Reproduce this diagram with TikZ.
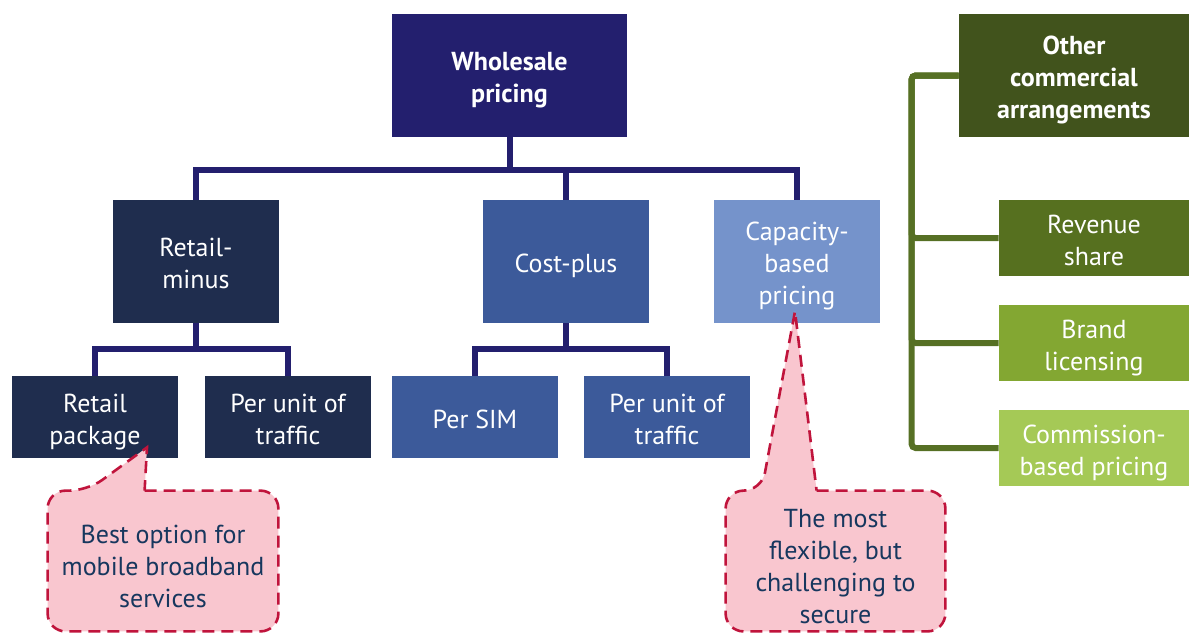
\documentclass[tikz,border=0pt]{standalone}
\usepackage{fontspec}
\setmainfont{PT Sans}
\usetikzlibrary{positioning}

\definecolor{wholeblue}{RGB}{35,31,110}
\definecolor{retailnavy}{RGB}{31,45,78}
\definecolor{costblue}{RGB}{60,90,154}
\definecolor{capblue}{RGB}{117,147,203}
\definecolor{othergreen}{RGB}{65,83,28}
\definecolor{linegreen}{RGB}{86,112,36}
\definecolor{revgreen}{RGB}{86,112,31}
\definecolor{brandgreen}{RGB}{131,167,50}
\definecolor{commgreen}{RGB}{165,201,86}
\definecolor{notepink}{RGB}{249,198,207}
\definecolor{notered}{RGB}{192,20,60}
\definecolor{noteink}{RGB}{23,55,94}

% strut for the first line of a box
\newcommand{\toppad}{\rule{0pt}{14.5pt}}

\begin{document}
\begin{tikzpicture}[
    x=0.5pt, y=-0.5pt,
    every node/.style={align=center, text=white, inner sep=0pt,
      font=\fontsize{13}{16}\selectfont,
      execute at end node={\rule[-3.5pt]{0pt}{0pt}}},
    headbox/.style={minimum width=117.5pt, minimum height=61.5pt,
      font=\fontsize{13}{16}\selectfont\bfseries},
    midbox/.style={minimum width=83pt, minimum height=61.5pt},
    leafbox/.style={minimum width=83pt, minimum height=41pt},
    sidebox/.style={minimum width=95pt, minimum height=38pt},
    navyline/.style={draw=wholeblue, line width=3pt},
    greenline/.style={draw=linegreen, line width=3pt, rounded corners=2pt},
    notebox/.style={fill=notepink, draw=notered, line width=1.3pt,
      dash pattern=on 6pt off 3.5pt},
    notetext/.style={text=noteink}
]
  \useasboundingbox (0,0) rectangle (1189,633);

  % Top row
  \node[headbox, fill=wholeblue] (whole) at (509.5,75.5) {\toppad Wholesale\\pricing};
  \node[headbox, minimum width=115pt, fill=othergreen] (other) at (1074,75.5) {\toppad Other\\commercial\\arrangements};

  % Pricing methods
  \node[midbox, fill=retailnavy] (retmin) at (196,261.5) {\toppad Retail-\\minus};
  \node[midbox, fill=costblue]   (costp)  at (566,261.5) {\toppad Cost-plus};
  \node[midbox, fill=capblue]    (capac)  at (797,261.5) {\toppad Capacity-\\based\\pricing};

  % Bottom row
  \node[leafbox, fill=retailnavy] (retpkg)  at (95,417)  {\toppad Retail\\package};
  \node[leafbox, fill=retailnavy] (unitret) at (288,417) {\toppad Per unit of\\traffic};
  \node[leafbox, fill=costblue]   (persim)  at (475,417) {\toppad Per SIM};
  \node[leafbox, fill=costblue]   (unitcost) at (667,417) {\toppad Per unit of\\traffic};

  % Other arrangements
  \node[sidebox, fill=revgreen]   (revenue) at (1094,238) {\toppad Revenue\\share};
  \node[sidebox, fill=brandgreen] (brand)   at (1094,343) {\toppad Brand\\licensing};
  \node[sidebox, fill=commgreen]  (commis)  at (1094,448) {\toppad Commission-\\based pricing};

  % Tree lines
  \draw[navyline] (whole.south) -- ++(0,33) -| (retmin.north);
  \draw[navyline] (whole.south) -- ++(0,33) -| (costp.north);
  \draw[navyline] (whole.south) -- ++(0,33) -| (capac.north);
  \draw[navyline] (retmin.south) -- ++(0,26) -| (retpkg.north);
  \draw[navyline] (retmin.south) -- ++(0,26) -| (unitret.north);
  \draw[navyline] (costp.south) -- ++(0,26) -| (persim.north);
  \draw[navyline] (costp.south) -- ++(0,26) -| (unitcost.north);
  \draw[greenline] (other.west) -- ++(-47,0) |- (revenue.west);
  \draw[greenline] (other.west) -- ++(-47,0) |- (brand.west);
  \draw[greenline] (other.west) -- ++(-47,0) |- (commis.west);

  % Callouts
  \node[minimum width=115pt, minimum height=70pt] (note1) at (163,561) {};
  \node[minimum width=109.5pt, minimum height=70pt] (note2) at (835.5,561) {};
  \draw[notebox] ([xshift=48.5pt]note1.north west) [rounded corners=9pt]
    -- (note1.north east) -- (note1.south east) -- (note1.south west)
    -- (note1.north west) -- ([xshift=20pt]note1.north west) [sharp corners]
    -- ([shift={(52,-11)}]retpkg.south) -- cycle;
  \draw[notebox] ([xshift=45.5pt]note2.north west) [rounded corners=9pt]
    -- (note2.north east) -- (note2.south east) -- (note2.south west)
    -- (note2.north west) -- ([xshift=18pt]note2.north west) [sharp corners]
    -- ([shift={(-2,-12)}]capac.south) -- cycle;
  \node[notetext] (notetxt1) at ([yshift=-1.5pt]note1.center) {\toppad Best option for\\mobile broadband\\services};
  \node[notetext] (notetxt2) at ([yshift=-1.5pt]note2.center) {\toppad The most\\flexible, but\\challenging to\\secure};
\end{tikzpicture}
\end{document}
